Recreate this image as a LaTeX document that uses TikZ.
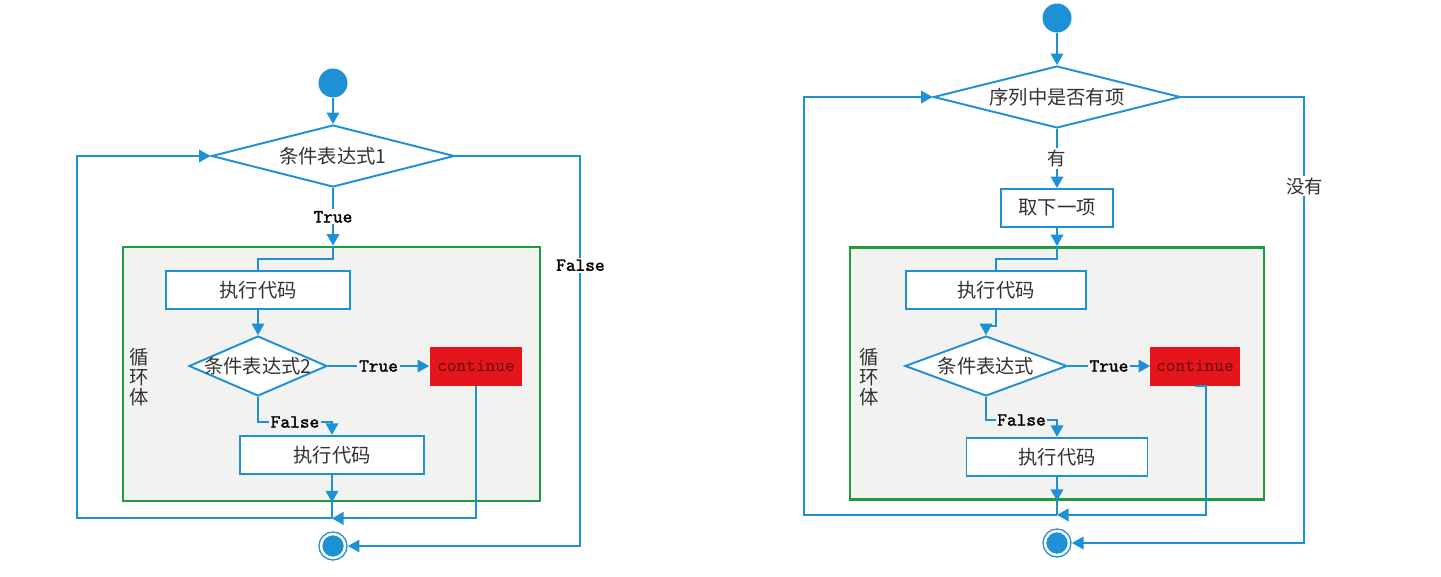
\documentclass[tikz,border=0pt]{standalone}
\usepackage{fontspec}
\setmainfont{Noto Sans CJK SC}
\newfontfamily\monobold{lmmono10-regular.otf}[FakeBold=1.6]
\definecolor{flowblue}{RGB}{30, 144, 214}
\definecolor{loopgreen}{RGB}{30, 155, 60}
\definecolor{bodygray}{RGB}{242, 242, 241}
\definecolor{contred}{RGB}{228, 22, 28}
\definecolor{contdark}{RGB}{100, 10, 10}
\definecolor{cntext}{RGB}{50, 50, 50}
\usetikzlibrary{shapes.geometric, arrows.meta, positioning, calc}

\tikzset{
  flow/.style={draw=flowblue, line width=1.1pt, -{Triangle[length=2.3mm, width=2.5mm]}},
  wire/.style={draw=flowblue, line width=1.1pt},
  startdot/.style={circle, fill=flowblue, minimum size=0.58cm, inner sep=0pt},
  enddot/.style={circle, fill=flowblue, draw=flowblue, line width=0.8pt, double=white,
                 double distance=0.05cm, minimum size=0.48cm, inner sep=0pt, outer sep=0.06cm},
  decision/.style={diamond, draw=flowblue, fill=white, line width=1.1pt, inner sep=0pt,
                   minimum height=1.24cm,
                   label={[font=\fontsize{11}{13}\selectfont, text=cntext]center:#1}},
  codebox/.style={rectangle, draw=flowblue, fill=white, line width=1.1pt, minimum height=0.77cm,
                  text=cntext, font=\fontsize{11}{13}\selectfont},
  contbox/.style={rectangle, fill=contred, minimum height=0.78cm, text=contdark,
                  font=\ttfamily\fontsize{10.5}{12}\selectfont},
  loopbox/.style={rectangle, draw=loopgreen, fill=bodygray, line width=1.6pt},
  yesno/.style={font=\monobold\fontsize{10.5}{12}\selectfont, fill=white, inner sep=1pt},
  cnlabel/.style={font=\fontsize{10.5}{12}\selectfont, text=cntext, fill=white, inner sep=1pt},
  sidetext/.style={align=center, text=cntext, font=\fontsize{11}{11.4}\selectfont}
}

\begin{document}
\begin{tikzpicture}[x=0.02cm, y=-0.02cm]
  \useasboundingbox (0,0) rectangle (1441,576);

  % left: while loop
  \node[loopbox, minimum width=8.34cm, minimum height=5.08cm] (body1) at (331.5,374) {};
  \node[sidetext] (side1) at (139,377) {循\\环\\体};
  \node[startdot] (start1) at (333,83) {};
  \node[decision={条件表达式1}, minimum width=4.86cm] (dec1) at (333,156) {};
  \node[codebox, minimum width=3.68cm] (code1a) at (258,290) {执行代码};
  \node[decision={条件表达式2}, minimum width=2.76cm, minimum height=1.2cm] (dec2) at (258,366) {};
  \node[contbox, minimum width=1.86cm] (cont1) at (476,366) {continue};
  \node[codebox, minimum width=3.68cm] (code1b) at (332,455) {执行代码};
  \node[enddot] (end1) at (333,546) {};

  \draw[flow] (start1) -- (dec1);
  \draw[flow] (dec1.south) -- (dec1.south |- body1.north) node[midway, yesno] {True};
  \draw[wire] (dec1.south |- body1.north) -- ++(0,13) -| (code1a.north);
  \draw[flow] (code1a) -- (dec2);
  \draw[flow] (dec2) -- (cont1) node[midway, yesno, fill=bodygray] {True};
  \draw[flow] (dec2.south) -- ++(0,25) -| (code1b.north) node[pos=0.25, yesno, fill=bodygray] {False};
  \draw[flow] (code1b) -- (code1b |- body1.south);
  \draw[wire] (code1b |- body1.south) -- ++(0,16) coordinate (j1);
  \draw[flow] (cont1.south) |- (j1);
  \draw[flow] (j1) -- ++(-255,0) |- (dec1.west);
  \draw[flow] (dec1.east) -- ++(125,0) coordinate (r1) -- (r1 |- end1)
        node[pos=0.28, yesno] {False} -- (end1);

  % right: for loop
  \node[loopbox, minimum width=8.28cm, minimum height=5.04cm] (body2) at (1057,373.5) {};
  \node[sidetext] (side2) at (869,377) {循\\环\\体};
  \node[startdot] (start2) at (1057,18) {};
  \node[decision={序列中是否有项}, minimum width=4.94cm] (dec3) at (1057,97) {};
  \node[codebox, minimum width=2.24cm, minimum height=0.76cm] (take) at (1057,208) {取下一项};
  \node[codebox, minimum width=3.6cm] (code2a) at (996,290) {执行代码};
  \node[decision={条件表达式}, minimum width=3.24cm, minimum height=1.2cm] (dec4) at (986,366) {};
  \node[contbox, minimum width=1.78cm] (cont2) at (1195,366) {continue};
  \node[codebox, minimum width=3.62cm] (code2b) at (1057,457) {执行代码};
  \node[enddot] (end2) at (1057,543) {};

  \draw[flow] (start2) -- (dec3);
  \draw[flow] (dec3) -- (take) node[midway, cnlabel] {有};
  \draw[flow] (take) -- (take |- body2.north);
  \draw[wire] (take |- body2.north) -- ++(0,13) -| (code2a.north);
  \draw[flow] (code2a.south) -- ++(0,16) -| (dec4.north);
  \draw[flow] (dec4) -- (cont2) node[midway, yesno, fill=bodygray] {True};
  \draw[flow] (dec4.south) -- ++(0,23) -| (code2b.north) node[pos=0.25, yesno, fill=bodygray] {False};
  \draw[flow] (code2b) -- (code2b |- body2.south);
  \draw[wire] (code2b |- body2.south) -- ++(0,14) coordinate (j2);
  \draw[flow] (cont2.south) -- ++(11,0) |- (j2);
  \draw[flow] (j2) -- ++(-253,0) |- (dec3.west);
  \draw[flow] (dec3.east) -- ++(123,0) coordinate (r2) -- (r2 |- end2)
        node[pos=0.2, cnlabel] {没有} -- (end2);
\end{tikzpicture}
\end{document}
